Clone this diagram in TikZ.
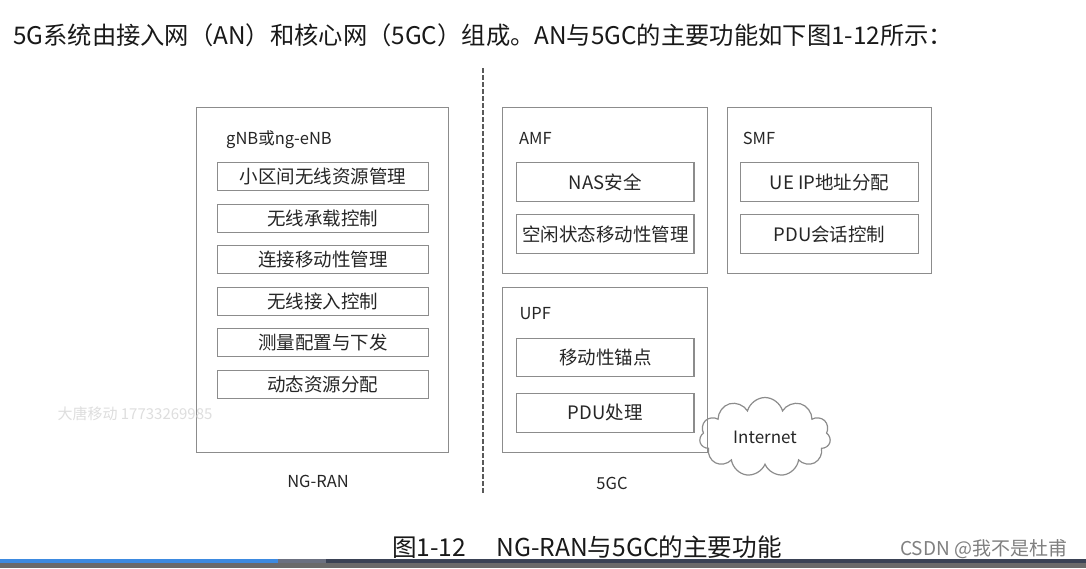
\documentclass[tikz,border=0pt]{standalone}
\usepackage{fontspec}
\setmainfont{Noto Sans CJK SC}
\usetikzlibrary{positioning, shapes.symbols}

\definecolor{boxgray}{HTML}{8C8C8C}
\definecolor{txtdark}{HTML}{262626}
\definecolor{barblue}{HTML}{3D8AE0}
\definecolor{bargray}{HTML}{6B7080}
\definecolor{bardark}{HTML}{3A4255}
\definecolor{basegray}{HTML}{6A6A6A}

\begin{document}
\begin{tikzpicture}[
  x=1pt, y=-1pt,
  node distance=12.3pt,
  nfbox/.style={draw=boxgray, line width=1.2pt, inner sep=0pt},
  fbox/.style={draw=boxgray, line width=1.2pt, inner sep=0pt, text=txtdark, font=\fontsize{18.5}{20}\selectfont},
  ran/.style={fbox, minimum width=211pt, minimum height=28pt},
  core/.style={fbox, minimum width=177.5pt, minimum height=38.6pt},
  tag/.style={inner sep=0pt, text=txtdark, font=\fontsize{16.5}{18}\selectfont},
  sepline/.style={draw=black!65, line width=1.5pt, dash pattern=on 4.5pt off 2.5pt}
]
\useasboundingbox (0,0) rectangle (1086,568);
\fill[white] (0,0) rectangle (1086,568);

\node[tag, anchor=west, text=black!90, font=\fontsize{24.3}{27}\selectfont] (head) at (13,35)
  {5G系统由接入网（AN）和核心网（5GC）组成。AN与5GC的主要功能如下图1-12所示：};

% NG-RAN
\node[nfbox, minimum width=252pt, minimum height=345.4pt] (gnb) at (322.7,280) {};
\node[tag, anchor=west] (gnbtag) at (226,140) {gNB或ng-eNB};
\node[ran] (rrm) at (322.8,176.7) {小区间无线资源管理};
\node[ran, below=of rrm] (rbc) {无线承载控制};
\node[ran, below=of rbc] (cmm) {连接移动性管理};
\node[ran, below=of cmm] (rac) {无线接入控制};
\node[ran, below=of rac] (meas) {测量配置与下发};
\node[ran, below=of meas] (dra) {动态资源分配};
\node[tag] (ranname) at (318,481) {NG-RAN};

\node[tag, text=black!13, font=\fontsize{15}{17}\selectfont] (wmark) at (135,414) {大唐移动 17733269985};

% separator
\coordinate (septop) at (483,68);
\coordinate (sepbot) at (483,495);
\draw[sepline] (septop) -- (sepbot);

% 5GC
\node[nfbox, minimum width=204.6pt, minimum height=166pt] (amf) at (605,190.3) {};
\node[tag, anchor=west] (amftag) at (519,138.3) {AMF};
\node[core] (nas) at (605.3,182) {NAS安全};
\node[core, below=of nas] (idle) {空闲状态移动性管理};

\node[nfbox, minimum width=203.6pt, minimum height=166pt] (smf) at (829.5,190.3) {};
\node[tag, anchor=west] (smftag) at (742.7,138.3) {SMF};
\node[core] (ueip) at (829.5,182) {UE IP地址分配};
\node[core, below=of ueip] (pdus) {PDU会话控制};

\node[nfbox, minimum width=204.6pt, minimum height=165.4pt] (upf) at (605,370) {};
\node[tag, anchor=west] (upftag) at (519.3,313.3) {UPF};
\node[core] (mobanc) at (605.3,357.5) {移动性锚点};
\node[core, below=15.5pt of mobanc] (pduproc) {PDU处理};

\node[cloud, draw=boxgray, line width=1.2pt, cloud puffs=11, cloud ignores aspect,
  minimum width=131pt, minimum height=79pt, inner sep=0pt, text=txtdark,
  font=\fontsize{17}{19}\selectfont] (inet) at (765,437) {Internet};
\node[tag] (corename) at (612,483) {5GC};

% caption and page bottom
\node[tag, anchor=base west, text=black!90, font=\fontsize{24.6}{27}\selectfont] (figcap) at (392,556)
  {图1-12\hspace{30pt}NG-RAN与5GC的主要功能};
\node[tag, anchor=base west, text=black!50, font=\fontsize{19}{21}\selectfont] (csdn) at (900,555)
  {CSDN @我不是杜甫};

\fill[barblue] (0,559) rectangle (278,563);
\fill[bargray] (278,559) rectangle (326,563);
\fill[bardark] (326,559) rectangle (1086,563);
\fill[basegray] (0,563) rectangle (1086,568);
\end{tikzpicture}
\end{document}
